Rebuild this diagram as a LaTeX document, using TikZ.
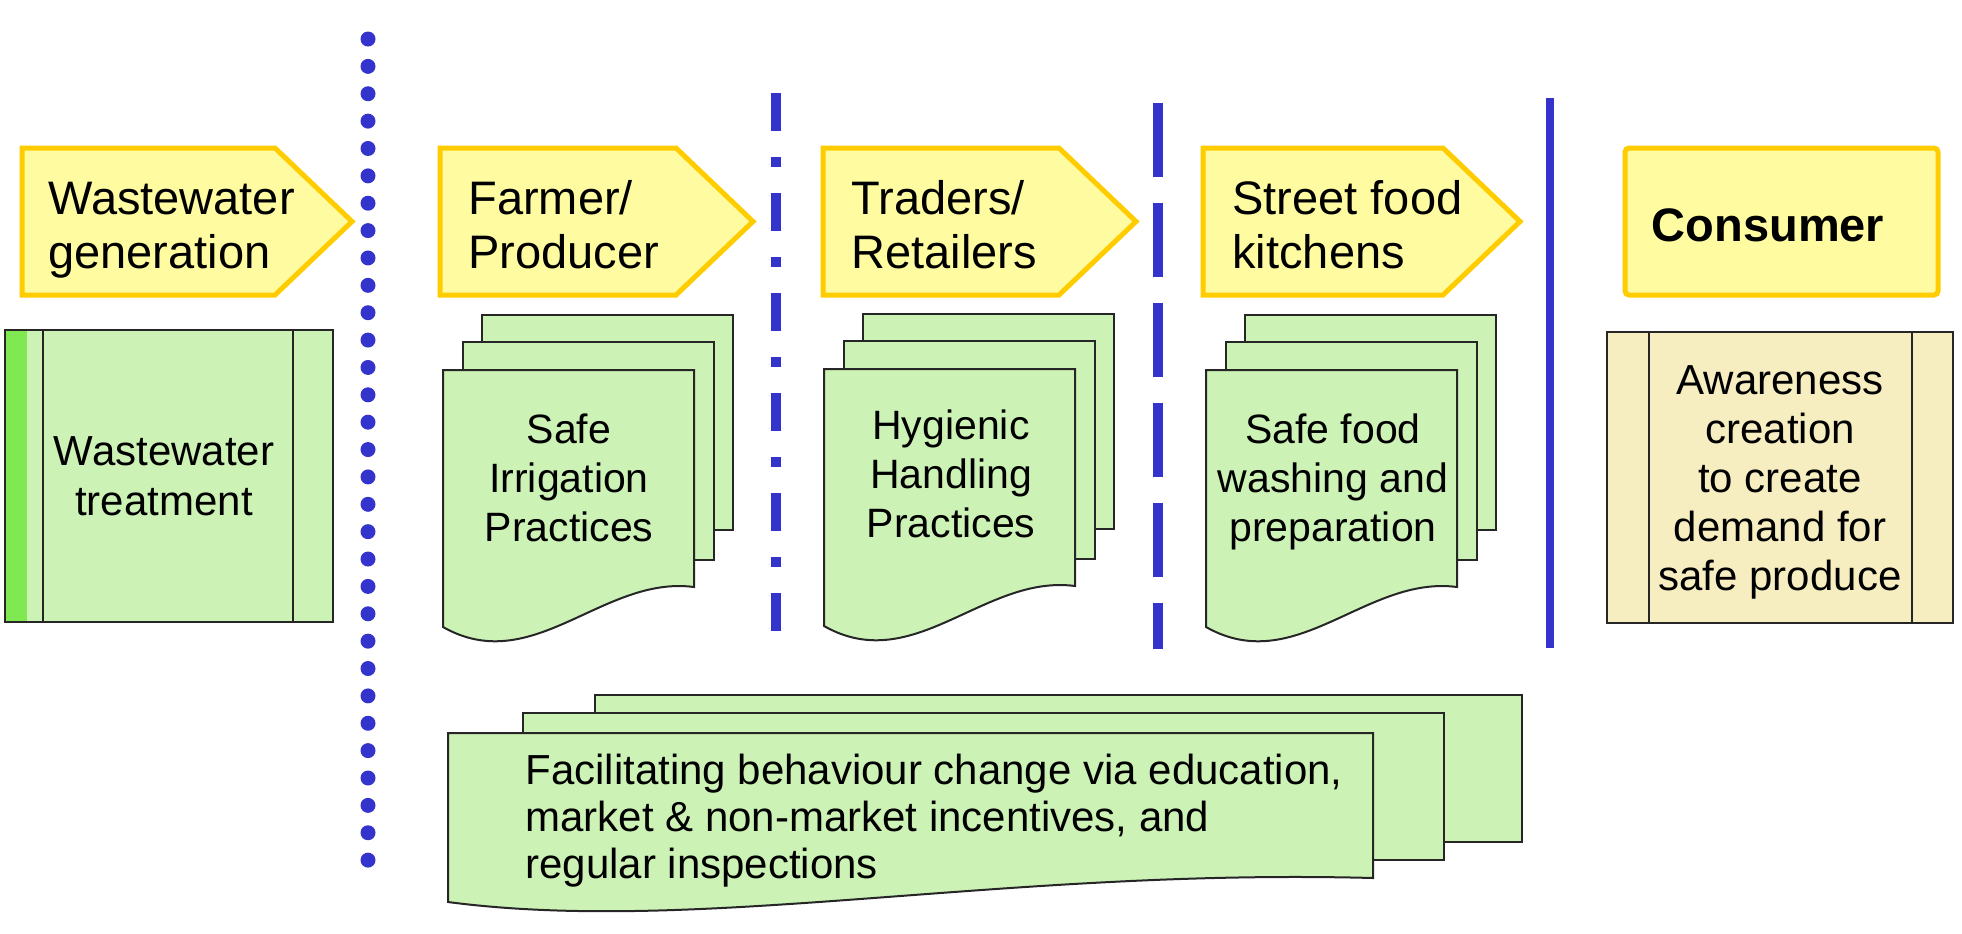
\documentclass[tikz,border=0pt]{standalone}
\usepackage{fontspec}
\setmainfont{Liberation Sans}
\definecolor{penfill}{RGB}{255,251,160}
\definecolor{pengold}{RGB}{255,204,0}
\definecolor{docgreen}{RGB}{205,242,182}
\definecolor{stripegreen}{RGB}{128,232,80}
\definecolor{awaretan}{RGB}{246,238,193}
\definecolor{sepblue}{RGB}{52,52,204}
\begin{document}
\begin{tikzpicture}[x=0.5pt,y=-0.5pt,
  pentbox/.style={fill=penfill,draw=pengold,line width=2.5pt,line join=miter},
  consbox/.style={fill=penfill,draw=pengold,line width=2.5pt,rounded corners=2pt},
  sheet/.style={fill=docgreen,draw=black!85,line width=1pt,line join=miter},
  procline/.style={draw=black!85,line width=1pt},
  headtxt/.style={inner sep=0pt,anchor=north west,align=left,font=\fontsize{23.5}{27}\selectfont},
  doctxt/.style={inner sep=0pt,anchor=north,align=center,font=\fontsize{20.5}{24.5}\selectfont},
  sepline/.style={draw=sepblue,line width=5pt},
]
\useasboundingbox (0,0) rectangle (1962,933);

% separators
\foreach \k in {0,...,30} \fill[sepblue] (368,39+27.37*\k) circle[radius=3.75pt];
\coordinate (dd1) at (776,93);  \coordinate (dd2) at (776,632);
\draw[sepline, dash pattern=on 19pt off 13pt on 5pt off 13pt] (dd1) -- (dd2);
\coordinate (da1) at (1158,103); \coordinate (da2) at (1158,649);
\draw[sepline, dash pattern=on 37pt off 13pt] (da1) -- (da2);
\coordinate (so1) at (1550,98); \coordinate (so2) at (1550,648);
\draw[draw=sepblue,line width=4pt] (so1) -- (so2);

% header pentagons
\foreach \L/\R in {22/352,440/753,823/1136,1203/1520}
  \draw[pentbox] (\L,148) -- (\R-77,148) -- (\R,221.5) -- (\R-77,295) -- (\L,295) -- cycle;
\node[headtxt] (wgen) at (48,176.2) {\strut Wastewater\\\strut generation};
\node[headtxt] (farmer) at (468,176.2) {\strut Farmer/\\\strut Producer};
\node[headtxt] (traders) at (851,176.2) {\strut Traders/\\\strut Retailers};
\node[headtxt] (street) at (1232,176.2) {\strut Street food\\\strut kitchens};

% consumer
\draw[consbox] (1625,148) rectangle (1938,295);
\node[inner sep=0pt,anchor=base,font=\bfseries\fontsize{23.5}{28}\selectfont] (consumer) at (1768,241) {Consumer};

% wastewater treatment (process box)
\fill[docgreen] (5,330) rectangle (333,622);
\fill[stripegreen] (5,330) rectangle (27,622);
\draw[procline] (5,330) rectangle (333,622) (43,330) -- (43,622) (293,330) -- (293,622);
\node[inner sep=0pt,anchor=north,align=center,font=\fontsize{21}{25}\selectfont] (wtreat) at (164,430.5) {\strut Wastewater\\\strut treatment};

% awareness (process box)
\fill[awaretan] (1607,332) rectangle (1953,623);
\draw[procline] (1607,332) rectangle (1953,623) (1649,332) -- (1649,623) (1912,332) -- (1912,623);
\node[inner sep=0pt,anchor=north,align=center,font=\fontsize{21}{24.5}\selectfont] (aware) at (1780,359.7)
  {\strut Awareness\\\strut creation\\\strut to create\\\strut demand for\\\strut safe produce};

% multi-document stacks
\foreach \L/\T in {443/370,824/369,1206/370}{
  \draw[sheet] (\L+39,\T-55) rectangle (\L+290,\T+160);
  \draw[sheet] (\L+20,\T-28) rectangle (\L+271,\T+190);
  \draw[sheet] (\L,\T) -- (\L+251,\T) -- (\L+251,\T+217)
     .. controls (\L+160,\T+205) and (\L+90,\T+308) .. (\L,\T+257) -- cycle;
}
\node[doctxt] (safeirr) at (569,408.7) {\strut Safe\\\strut Irrigation\\\strut Practices};
\node[doctxt] (hygienic) at (951,404.7) {\strut Hygienic\\\strut Handling\\\strut Practices};
\node[doctxt] (safefood) at (1333,408.7) {\strut Safe food\\\strut washing and\\\strut preparation};

% bottom multi-document
\draw[sheet] (595,695) rectangle (1522,842);
\draw[sheet] (523,713) rectangle (1444,860);
\draw[sheet] (448,733) -- (1373,733) -- (1373,878)
   .. controls (1000,868) and (700,935) .. (448,902) -- cycle;
\node[inner sep=0pt,anchor=north west,align=left,font=\fontsize{21}{23.5}\selectfont] (facil) at (525,751)
  {\strut Facilitating behaviour change via education,\\\strut market \& non-market incentives, and\\\strut regular inspections};
\end{tikzpicture}
\end{document}
